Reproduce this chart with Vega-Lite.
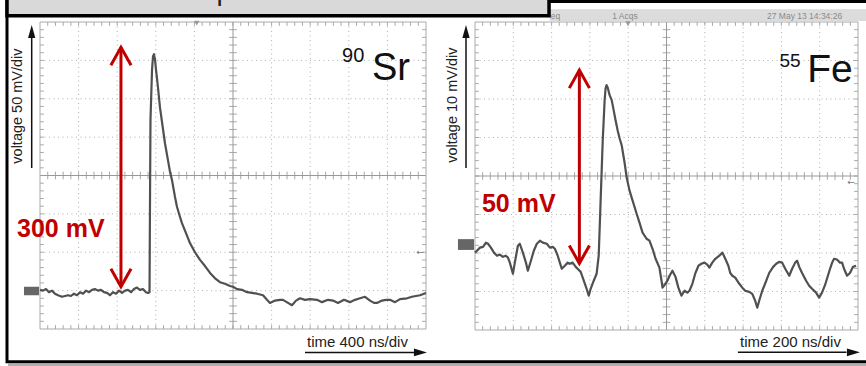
{
 "$schema": "https://vega.github.io/schema/vega-lite/v6.json",
 "width": 866, "height": 366,
 "autosize": {"type": "none"},
 "padding": 0,
 "background": "white",
 "config": {"view": {"stroke": null}},
 "data": {"values": [{}]},
 "datasets": {
  "lxt": [80,160,240,320,400,480,560,640,720,800,880,960,1040,1120,1200,1280,1360,1440,1520,1600,1680,1760,1840,1920,2000,2080,2160,2240,2320,2400,2480,2560,2640,2720,2800,2880,2960,3040,3120,3200,3280,3360,3440,3520,3600,3680,3760,3840,3920],
  "lyt": [-190,-180,-170,-160,-150,-140,-130,-120,-110,-100,-90,-80,-70,-60,-50,-40,-30,-20,-10,0,10,20,30,40,50,60,70,80,90,100,110,120,130,140,150,160,170,180,190],
  "rxt": [40,80,120,160,200,240,280,320,360,400,440,480,520,560,600,640,680,720,760,800,840,880,920,960,1000,1040,1080,1120,1160,1200,1240,1280,1320,1360,1400,1440,1480,1520,1560,1600,1640,1680,1720,1760,1800,1840,1880,1920,1960],
  "ryt": [-38,-36,-34,-32,-30,-28,-26,-24,-22,-20,-18,-16,-14,-12,-10,-8,-6,-4,-2,0,2,4,6,8,10,12,14,16,18,20,22,24,26,28,30,32,34,36,38],
  "left": [{"t":0,"v":-149},{"t":31,"v":-150},{"t":62,"v":-148},{"t":93,"v":-152},{"t":124,"v":-150},{"t":155,"v":-154},{"t":187,"v":-156},{"t":228,"v":-158},{"t":259,"v":-157},{"t":290,"v":-156},{"t":321,"v":-157},{"t":352,"v":-154},{"t":383,"v":-156},{"t":415,"v":-152},{"t":446,"v":-154},{"t":477,"v":-150},{"t":508,"v":-152},{"t":539,"v":-149},{"t":570,"v":-148},{"t":601,"v":-150},{"t":632,"v":-149},{"t":663,"v":-152},{"t":694,"v":-153},{"t":725,"v":-156},{"t":756,"v":-152},{"t":788,"v":-154},{"t":819,"v":-150},{"t":850,"v":-153},{"t":881,"v":-150},{"t":912,"v":-149},{"t":943,"v":-152},{"t":974,"v":-148},{"t":1005,"v":-146},{"t":1036,"v":-149},{"t":1067,"v":-148},{"t":1098,"v":-152},{"t":1119,"v":-153},{"t":1135,"v":-152},{"t":1140,"v":-32},{"t":1145,"v":73},{"t":1161,"v":138},{"t":1171,"v":155},{"t":1181,"v":158},{"t":1192,"v":151},{"t":1202,"v":138},{"t":1212,"v":127},{"t":1223,"v":114},{"t":1244,"v":88},{"t":1264,"v":70},{"t":1295,"v":42},{"t":1326,"v":20},{"t":1347,"v":5},{"t":1368,"v":-6},{"t":1399,"v":-28},{"t":1420,"v":-41},{"t":1451,"v":-54},{"t":1471,"v":-62},{"t":1513,"v":-75},{"t":1554,"v":-88},{"t":1606,"v":-100},{"t":1658,"v":-110},{"t":1710,"v":-118},{"t":1762,"v":-127},{"t":1814,"v":-134},{"t":1865,"v":-139},{"t":1917,"v":-141},{"t":1969,"v":-144},{"t":2000,"v":-145},{"t":2042,"v":-148},{"t":2093,"v":-149},{"t":2145,"v":-152},{"t":2197,"v":-153},{"t":2249,"v":-154},{"t":2311,"v":-156},{"t":2352,"v":-162},{"t":2383,"v":-166},{"t":2435,"v":-163},{"t":2487,"v":-162},{"t":2518,"v":-162},{"t":2570,"v":-166},{"t":2611,"v":-169},{"t":2653,"v":-163},{"t":2694,"v":-160},{"t":2746,"v":-162},{"t":2798,"v":-161},{"t":2871,"v":-162},{"t":2922,"v":-165},{"t":2985,"v":-162},{"t":3036,"v":-163},{"t":3088,"v":-166},{"t":3150,"v":-162},{"t":3212,"v":-165},{"t":3264,"v":-162},{"t":3316,"v":-160},{"t":3368,"v":-158},{"t":3420,"v":-163},{"t":3461,"v":-166},{"t":3492,"v":-166},{"t":3544,"v":-163},{"t":3586,"v":-162},{"t":3627,"v":-162},{"t":3679,"v":-165},{"t":3731,"v":-161},{"t":3803,"v":-160},{"t":3855,"v":-158},{"t":3896,"v":-157},{"t":3938,"v":-156},{"t":4000,"v":-153}],
  "right": [{"t":0,"v":-19.9},{"t":10,"v":-19.4},{"t":26,"v":-18.6},{"t":42,"v":-18.4},{"t":57,"v":-17.3},{"t":68,"v":-17.6},{"t":83,"v":-18.6},{"t":99,"v":-19.9},{"t":115,"v":-20.7},{"t":130,"v":-20.4},{"t":146,"v":-21.0},{"t":161,"v":-20.7},{"t":172,"v":-21.2},{"t":182,"v":-22.5},{"t":198,"v":-25.4},{"t":208,"v":-22.5},{"t":224,"v":-18.1},{"t":234,"v":-17.6},{"t":250,"v":-19.9},{"t":266,"v":-22.5},{"t":276,"v":-24.6},{"t":292,"v":-22.0},{"t":307,"v":-19.4},{"t":323,"v":-17.6},{"t":339,"v":-16.8},{"t":354,"v":-17.3},{"t":375,"v":-17.6},{"t":391,"v":-18.6},{"t":406,"v":-18.4},{"t":417,"v":-18.9},{"t":432,"v":-20.7},{"t":443,"v":-22.5},{"t":453,"v":-24.1},{"t":469,"v":-23.3},{"t":484,"v":-22.5},{"t":495,"v":-22.8},{"t":510,"v":-22.5},{"t":526,"v":-23.6},{"t":536,"v":-24.1},{"t":552,"v":-24.9},{"t":568,"v":-27.2},{"t":583,"v":-29.3},{"t":594,"v":-31.1},{"t":604,"v":-29.3},{"t":620,"v":-27.2},{"t":635,"v":-25.4},{"t":646,"v":-20.7},{"t":656,"v":-6.4},{"t":667,"v":9.2},{"t":677,"v":19.7},{"t":682,"v":22.8},{"t":687,"v":23.6},{"t":693,"v":23.0},{"t":703,"v":21.0},{"t":714,"v":19.7},{"t":724,"v":17.1},{"t":734,"v":14.5},{"t":745,"v":11.8},{"t":755,"v":9.8},{"t":766,"v":8.0},{"t":781,"v":3.5},{"t":792,"v":-0.4},{"t":807,"v":-3.8},{"t":823,"v":-6.4},{"t":844,"v":-9.8},{"t":859,"v":-12.1},{"t":875,"v":-14.7},{"t":896,"v":-16.3},{"t":911,"v":-16.8},{"t":927,"v":-18.9},{"t":943,"v":-21.5},{"t":963,"v":-23.8},{"t":974,"v":-27.2},{"t":979,"v":-29.0},{"t":990,"v":-28.3},{"t":1005,"v":-27.2},{"t":1016,"v":-25.9},{"t":1031,"v":-24.6},{"t":1047,"v":-26.2},{"t":1062,"v":-29.0},{"t":1078,"v":-31.1},{"t":1094,"v":-29.8},{"t":1109,"v":-30.3},{"t":1120,"v":-29.8},{"t":1135,"v":-28.0},{"t":1151,"v":-25.2},{"t":1167,"v":-23.3},{"t":1182,"v":-22.8},{"t":1198,"v":-22.5},{"t":1213,"v":-23.0},{"t":1224,"v":-23.8},{"t":1239,"v":-22.5},{"t":1255,"v":-21.5},{"t":1276,"v":-20.7},{"t":1292,"v":-19.9},{"t":1307,"v":-21.5},{"t":1323,"v":-23.3},{"t":1333,"v":-25.2},{"t":1344,"v":-25.9},{"t":1359,"v":-26.4},{"t":1380,"v":-28.0},{"t":1396,"v":-29.0},{"t":1411,"v":-29.8},{"t":1432,"v":-30.1},{"t":1448,"v":-30.6},{"t":1463,"v":-32.4},{"t":1474,"v":-34.2},{"t":1484,"v":-32.4},{"t":1500,"v":-29.8},{"t":1521,"v":-27.2},{"t":1536,"v":-25.2},{"t":1557,"v":-23.6},{"t":1573,"v":-22.8},{"t":1588,"v":-22.3},{"t":1604,"v":-22.5},{"t":1620,"v":-24.1},{"t":1641,"v":-25.9},{"t":1656,"v":-24.1},{"t":1672,"v":-22.5},{"t":1682,"v":-22.0},{"t":1693,"v":-23.6},{"t":1708,"v":-25.2},{"t":1729,"v":-27.2},{"t":1745,"v":-28.5},{"t":1760,"v":-29.3},{"t":1781,"v":-30.3},{"t":1797,"v":-31.6},{"t":1812,"v":-30.3},{"t":1828,"v":-28.3},{"t":1838,"v":-26.7},{"t":1854,"v":-24.1},{"t":1865,"v":-22.5},{"t":1875,"v":-21.5},{"t":1890,"v":-21.7},{"t":1906,"v":-22.5},{"t":1917,"v":-22.5},{"t":1927,"v":-24.1},{"t":1943,"v":-25.9},{"t":1958,"v":-25.2},{"t":1974,"v":-23.6},{"t":1990,"v":-23.3}]
 },
 "resolve": {"scale": {"x": "independent", "y": "independent"}},
 "layer": [
  {
   "layer": [
    {"data": {"name": "rxt"}, "mark": {"type": "rule", "stroke": "#a8a8a8", "strokeWidth": 1},
     "encoding": {"x": {"field": "data", "type": "quantitative", "scale": {"domain": [0,2000], "range": [475,858], "nice": false, "zero": false}, "axis": null},
      "y": {"datum": -40, "scale": {"domain": [-40,40], "range": [330,22], "nice": false, "zero": false}, "axis": null}, "y2": {"datum": -39}}},
    {"data": {"name": "rxt"}, "mark": {"type": "rule", "stroke": "#a8a8a8", "strokeWidth": 1},
     "encoding": {"x": {"field": "data", "type": "quantitative", "scale": {"domain": [0,2000], "range": [475,858], "nice": false, "zero": false}, "axis": null},
      "y": {"datum": 40, "scale": {"domain": [-40,40], "range": [330,22], "nice": false, "zero": false}, "axis": null}, "y2": {"datum": 39}}},
    {"data": {"name": "rxt"}, "mark": {"type": "rule", "stroke": "#a8a8a8", "strokeWidth": 1},
     "encoding": {"x": {"field": "data", "type": "quantitative", "scale": {"domain": [0,2000], "range": [475,858], "nice": false, "zero": false}, "axis": null},
      "y": {"datum": -1, "scale": {"domain": [-40,40], "range": [330,22], "nice": false, "zero": false}, "axis": null}, "y2": {"datum": 1}}},
    {"data": {"name": "ryt"}, "mark": {"type": "rule", "stroke": "#a8a8a8", "strokeWidth": 1},
     "encoding": {"y": {"field": "data", "type": "quantitative", "scale": {"domain": [-40,40], "range": [330,22], "nice": false, "zero": false}, "axis": null},
      "x": {"datum": 0, "scale": {"domain": [0,2000], "range": [475,858], "nice": false, "zero": false}, "axis": null}, "x2": {"datum": 20}}},
    {"data": {"name": "ryt"}, "mark": {"type": "rule", "stroke": "#a8a8a8", "strokeWidth": 1},
     "encoding": {"y": {"field": "data", "type": "quantitative", "scale": {"domain": [-40,40], "range": [330,22], "nice": false, "zero": false}, "axis": null},
      "x": {"datum": 2000, "scale": {"domain": [0,2000], "range": [475,858], "nice": false, "zero": false}, "axis": null}, "x2": {"datum": 1980}}},
    {"data": {"name": "ryt"}, "mark": {"type": "rule", "stroke": "#a8a8a8", "strokeWidth": 1},
     "encoding": {"y": {"field": "data", "type": "quantitative", "scale": {"domain": [-40,40], "range": [330,22], "nice": false, "zero": false}, "axis": null},
      "x": {"datum": 980, "scale": {"domain": [0,2000], "range": [475,858], "nice": false, "zero": false}, "axis": null}, "x2": {"datum": 1020}}},
    {"data": {"values": [200,400,600,800,1200,1400,1600,1800]}, "mark": {"type": "rule", "stroke": "#b0b0b0", "strokeWidth": 1, "strokeDash": [1,3.5]},
     "encoding": {"x": {"field": "data", "type": "quantitative", "scale": {"domain": [0,2000], "range": [475,858], "nice": false, "zero": false}, "axis": null},
      "y": {"datum": -40, "scale": {"domain": [-40,40], "range": [330,22], "nice": false, "zero": false}, "axis": null}, "y2": {"datum": 40}}},
    {"data": {"values": [-30,-20,-10,10,20,30]}, "mark": {"type": "rule", "stroke": "#b0b0b0", "strokeWidth": 1, "strokeDash": [1,3.5]},
     "encoding": {"y": {"field": "data", "type": "quantitative", "scale": {"domain": [-40,40], "range": [330,22], "nice": false, "zero": false}, "axis": null},
      "x": {"datum": 0, "scale": {"domain": [0,2000], "range": [475,858], "nice": false, "zero": false}, "axis": null}, "x2": {"datum": 2000}}},
    {"mark": {"type": "rule", "stroke": "#999999", "strokeWidth": 1},
     "encoding": {"x": {"datum": 1000, "scale": {"domain": [0,2000], "range": [475,858], "nice": false, "zero": false}, "axis": null},
      "y": {"datum": -40, "scale": {"domain": [-40,40], "range": [330,22], "nice": false, "zero": false}, "axis": null}, "y2": {"datum": 40}}},
    {"mark": {"type": "rule", "stroke": "#999999", "strokeWidth": 1},
     "encoding": {"y": {"datum": 0, "scale": {"domain": [-40,40], "range": [330,22], "nice": false, "zero": false}, "axis": null},
      "x": {"datum": 0, "scale": {"domain": [0,2000], "range": [475,858], "nice": false, "zero": false}, "axis": null}, "x2": {"datum": 2000}}},
    {"mark": {"type": "rect", "fillOpacity": 0, "stroke": "#aaaaaa", "strokeWidth": 1},
     "encoding": {"x": {"datum": 0, "scale": {"domain": [0,2000], "range": [475,858], "nice": false, "zero": false}, "axis": null}, "x2": {"datum": 2000},
      "y": {"datum": -40, "scale": {"domain": [-40,40], "range": [330,22], "nice": false, "zero": false}, "axis": null}, "y2": {"datum": 40}}},
    {"mark": {"type": "rect", "fill": "#dcdcdc", "stroke": "#c8c8c8", "strokeWidth": 0.5},
     "encoding": {"x": {"datum": 392, "scale": {"domain": [0,2000], "range": [475,858], "nice": false, "zero": false}, "axis": null}, "x2": {"datum": 2050},
      "y": {"datum": 43.2, "scale": {"domain": [-40,40], "range": [330,22], "nice": false, "zero": false}, "axis": null}, "y2": {"datum": 40.4}}},
    {"data": {"values": [{"t": 420, "s": "eq"}, {"t": 783, "s": "1 Acqs"}, {"t": 1721, "s": "27 May 13 14:34:26"}]},
     "mark": {"type": "text", "font": "Liberation Sans", "fontSize": 8.5, "fill": "#8a8a8a", "align": "center", "baseline": "alphabetic"},
     "encoding": {"x": {"field": "t", "type": "quantitative", "scale": {"domain": [0,2000], "range": [475,858], "nice": false, "zero": false}, "axis": null},
      "y": {"datum": 40.9, "scale": {"domain": [-40,40], "range": [330,22], "nice": false, "zero": false}, "axis": null}, "text": {"field": "s"}}},
    {"mark": {"type": "point", "shape": "triangle-down", "size": 30, "filled": true, "fill": "#999999", "opacity": 1},
     "encoding": {"x": {"datum": 799, "scale": {"domain": [0,2000], "range": [475,858], "nice": false, "zero": false}, "axis": null},
      "y": {"datum": 39.6, "scale": {"domain": [-40,40], "range": [330,22], "nice": false, "zero": false}, "axis": null}}},
    {"data": {"name": "right"}, "mark": {"type": "line", "stroke": "#505050", "strokeWidth": 2.2, "strokeJoin": "round"},
     "encoding": {"x": {"field": "t", "type": "quantitative", "scale": {"domain": [0,2000], "range": [475,858], "nice": false, "zero": false}, "axis": null},
      "y": {"field": "v", "type": "quantitative", "scale": {"domain": [-40,40], "range": [330,22], "nice": false, "zero": false}, "axis": null}}},
    {"mark": {"type": "rect", "fill": "#666666"},
     "encoding": {"x": {"datum": -89, "scale": {"domain": [0,2000], "range": [475,858], "nice": false, "zero": false}, "axis": null}, "x2": {"datum": -5},
      "y": {"datum": -16.4, "scale": {"domain": [-40,40], "range": [330,22], "nice": false, "zero": false}, "axis": null}, "y2": {"datum": -19.2}}},
    {"mark": {"type": "text", "text": "←", "font": "DejaVu Sans", "fontSize": 9, "fill": "#777777", "align": "center", "baseline": "middle"},
     "encoding": {"x": {"datum": 1963, "scale": {"domain": [0,2000], "range": [475,858], "nice": false, "zero": false}, "axis": null},
      "y": {"datum": -1.6, "scale": {"domain": [-40,40], "range": [330,22], "nice": false, "zero": false}, "axis": null}}},
    {"mark": {"type": "rule", "stroke": "#c00000", "strokeWidth": 3},
     "encoding": {"x": {"datum": 545, "scale": {"domain": [0,2000], "range": [475,858], "nice": false, "zero": false}, "axis": null},
      "y": {"datum": -22.7, "scale": {"domain": [-40,40], "range": [330,22], "nice": false, "zero": false}, "axis": null}, "y2": {"datum": 27.5}}},
    {"mark": {"type": "point", "shape": "M-0.56,1L0,0L0.56,1", "size": 1296, "filled": false, "stroke": "#c00000", "strokeWidth": 3, "opacity": 1},
     "encoding": {"x": {"datum": 545, "scale": {"domain": [0,2000], "range": [475,858], "nice": false, "zero": false}, "axis": null},
      "y": {"datum": 27.5, "scale": {"domain": [-40,40], "range": [330,22], "nice": false, "zero": false}, "axis": null}}},
    {"mark": {"type": "point", "shape": "M-0.56,-1L0,0L0.56,-1", "size": 1296, "filled": false, "stroke": "#c00000", "strokeWidth": 3, "opacity": 1},
     "encoding": {"x": {"datum": 545, "scale": {"domain": [0,2000], "range": [475,858], "nice": false, "zero": false}, "axis": null},
      "y": {"datum": -22.7, "scale": {"domain": [-40,40], "range": [330,22], "nice": false, "zero": false}, "axis": null}}},
    {"mark": {"type": "text", "text": "50 mV", "font": "Liberation Sans", "fontSize": 25, "fontWeight": "bold", "fill": "#c00000", "align": "left", "baseline": "alphabetic"},
     "encoding": {"x": {"datum": 36, "scale": {"domain": [0,2000], "range": [475,858], "nice": false, "zero": false}, "axis": null},
      "y": {"datum": -9.4, "scale": {"domain": [-40,40], "range": [330,22], "nice": false, "zero": false}, "axis": null}}},
    {"mark": {"type": "text", "text": "55", "font": "Liberation Sans", "fontSize": 19, "fill": "#111111", "align": "left", "baseline": "alphabetic"},
     "encoding": {"x": {"datum": 1590, "scale": {"domain": [0,2000], "range": [475,858], "nice": false, "zero": false}, "axis": null},
      "y": {"datum": 28.4, "scale": {"domain": [-40,40], "range": [330,22], "nice": false, "zero": false}, "axis": null}}},
    {"mark": {"type": "text", "text": "Fe", "font": "Liberation Sans", "fontSize": 39, "fill": "#111111", "align": "left", "baseline": "alphabetic"},
     "encoding": {"x": {"datum": 1735, "scale": {"domain": [0,2000], "range": [475,858], "nice": false, "zero": false}, "axis": null},
      "y": {"datum": 24.5, "scale": {"domain": [-40,40], "range": [330,22], "nice": false, "zero": false}, "axis": null}}},
    {"mark": {"type": "text", "text": "voltage  10 mV/div", "font": "Liberation Sans", "fontSize": 14.5, "fill": "#222222", "align": "center", "baseline": "middle", "angle": 270},
     "encoding": {"x": {"datum": -115, "scale": {"domain": [0,2000], "range": [475,858], "nice": false, "zero": false}, "axis": null},
      "y": {"datum": 18.4, "scale": {"domain": [-40,40], "range": [330,22], "nice": false, "zero": false}, "axis": null}}},
    {"mark": {"type": "rule", "stroke": "#111111", "strokeWidth": 1.5},
     "encoding": {"x": {"datum": -47, "scale": {"domain": [0,2000], "range": [475,858], "nice": false, "zero": false}, "axis": null},
      "y": {"datum": 2.1, "scale": {"domain": [-40,40], "range": [330,22], "nice": false, "zero": false}, "axis": null}, "y2": {"datum": 36}}},
    {"mark": {"type": "point", "shape": "M0,0L0.28,1L-0.28,1Z", "size": 676, "filled": true, "fill": "#111111", "opacity": 1},
     "encoding": {"x": {"datum": -47, "scale": {"domain": [0,2000], "range": [475,858], "nice": false, "zero": false}, "axis": null},
      "y": {"datum": 39.2, "scale": {"domain": [-40,40], "range": [330,22], "nice": false, "zero": false}, "axis": null}}},
    {"mark": {"type": "text", "text": "time 200 ns/div", "font": "Liberation Sans", "fontSize": 15, "fill": "#222222", "align": "left", "baseline": "alphabetic"},
     "encoding": {"x": {"datum": 1384, "scale": {"domain": [0,2000], "range": [475,858], "nice": false, "zero": false}, "axis": null},
      "y": {"datum": -44.4, "scale": {"domain": [-40,40], "range": [330,22], "nice": false, "zero": false}, "axis": null}}},
    {"mark": {"type": "rule", "stroke": "#111111", "strokeWidth": 1.5},
     "encoding": {"y": {"datum": -45.8, "scale": {"domain": [-40,40], "range": [330,22], "nice": false, "zero": false}, "axis": null},
      "x": {"datum": 1373, "scale": {"domain": [0,2000], "range": [475,858], "nice": false, "zero": false}, "axis": null}, "x2": {"datum": 1940}}},
    {"mark": {"type": "point", "shape": "M0,0L-1,-0.3L-1,0.3Z", "size": 676, "filled": true, "fill": "#111111", "opacity": 1},
     "encoding": {"x": {"datum": 2010, "scale": {"domain": [0,2000], "range": [475,858], "nice": false, "zero": false}, "axis": null},
      "y": {"datum": -45.8, "scale": {"domain": [-40,40], "range": [330,22], "nice": false, "zero": false}, "axis": null}}}
   ]
  },
  {
   "layer": [
    {"data": {"name": "lxt"}, "mark": {"type": "rule", "stroke": "#a8a8a8", "strokeWidth": 1},
     "encoding": {"x": {"field": "data", "type": "quantitative", "scale": {"domain": [0,4000], "range": [40,426], "nice": false, "zero": false}, "axis": null},
      "y": {"datum": -200, "scale": {"domain": [-200,200], "range": [329,22], "nice": false, "zero": false}, "axis": null}, "y2": {"datum": -195}}},
    {"data": {"name": "lxt"}, "mark": {"type": "rule", "stroke": "#a8a8a8", "strokeWidth": 1},
     "encoding": {"x": {"field": "data", "type": "quantitative", "scale": {"domain": [0,4000], "range": [40,426], "nice": false, "zero": false}, "axis": null},
      "y": {"datum": 200, "scale": {"domain": [-200,200], "range": [329,22], "nice": false, "zero": false}, "axis": null}, "y2": {"datum": 195}}},
    {"data": {"name": "lxt"}, "mark": {"type": "rule", "stroke": "#a8a8a8", "strokeWidth": 1},
     "encoding": {"x": {"field": "data", "type": "quantitative", "scale": {"domain": [0,4000], "range": [40,426], "nice": false, "zero": false}, "axis": null},
      "y": {"datum": -5, "scale": {"domain": [-200,200], "range": [329,22], "nice": false, "zero": false}, "axis": null}, "y2": {"datum": 5}}},
    {"data": {"name": "lyt"}, "mark": {"type": "rule", "stroke": "#a8a8a8", "strokeWidth": 1},
     "encoding": {"y": {"field": "data", "type": "quantitative", "scale": {"domain": [-200,200], "range": [329,22], "nice": false, "zero": false}, "axis": null},
      "x": {"datum": 0, "scale": {"domain": [0,4000], "range": [40,426], "nice": false, "zero": false}, "axis": null}, "x2": {"datum": 40}}},
    {"data": {"name": "lyt"}, "mark": {"type": "rule", "stroke": "#a8a8a8", "strokeWidth": 1},
     "encoding": {"y": {"field": "data", "type": "quantitative", "scale": {"domain": [-200,200], "range": [329,22], "nice": false, "zero": false}, "axis": null},
      "x": {"datum": 4000, "scale": {"domain": [0,4000], "range": [40,426], "nice": false, "zero": false}, "axis": null}, "x2": {"datum": 3960}}},
    {"data": {"name": "lyt"}, "mark": {"type": "rule", "stroke": "#a8a8a8", "strokeWidth": 1},
     "encoding": {"y": {"field": "data", "type": "quantitative", "scale": {"domain": [-200,200], "range": [329,22], "nice": false, "zero": false}, "axis": null},
      "x": {"datum": 1960, "scale": {"domain": [0,4000], "range": [40,426], "nice": false, "zero": false}, "axis": null}, "x2": {"datum": 2040}}},
    {"data": {"values": [400,800,1200,1600,2400,2800,3200,3600]}, "mark": {"type": "rule", "stroke": "#b0b0b0", "strokeWidth": 1, "strokeDash": [1,3.5]},
     "encoding": {"x": {"field": "data", "type": "quantitative", "scale": {"domain": [0,4000], "range": [40,426], "nice": false, "zero": false}, "axis": null},
      "y": {"datum": -200, "scale": {"domain": [-200,200], "range": [329,22], "nice": false, "zero": false}, "axis": null}, "y2": {"datum": 200}}},
    {"data": {"values": [-150,-100,-50,50,100,150]}, "mark": {"type": "rule", "stroke": "#b0b0b0", "strokeWidth": 1, "strokeDash": [1,3.5]},
     "encoding": {"y": {"field": "data", "type": "quantitative", "scale": {"domain": [-200,200], "range": [329,22], "nice": false, "zero": false}, "axis": null},
      "x": {"datum": 0, "scale": {"domain": [0,4000], "range": [40,426], "nice": false, "zero": false}, "axis": null}, "x2": {"datum": 4000}}},
    {"mark": {"type": "rule", "stroke": "#999999", "strokeWidth": 1},
     "encoding": {"x": {"datum": 2000, "scale": {"domain": [0,4000], "range": [40,426], "nice": false, "zero": false}, "axis": null},
      "y": {"datum": -200, "scale": {"domain": [-200,200], "range": [329,22], "nice": false, "zero": false}, "axis": null}, "y2": {"datum": 200}}},
    {"mark": {"type": "rule", "stroke": "#999999", "strokeWidth": 1},
     "encoding": {"y": {"datum": 0, "scale": {"domain": [-200,200], "range": [329,22], "nice": false, "zero": false}, "axis": null},
      "x": {"datum": 0, "scale": {"domain": [0,4000], "range": [40,426], "nice": false, "zero": false}, "axis": null}, "x2": {"datum": 4000}}},
    {"mark": {"type": "rect", "fillOpacity": 0, "stroke": "#aaaaaa", "strokeWidth": 1},
     "encoding": {"x": {"datum": 0, "scale": {"domain": [0,4000], "range": [40,426], "nice": false, "zero": false}, "axis": null}, "x2": {"datum": 4000},
      "y": {"datum": -200, "scale": {"domain": [-200,200], "range": [329,22], "nice": false, "zero": false}, "axis": null}, "y2": {"datum": 200}}},
    {"mark": {"type": "point", "shape": "triangle-down", "size": 30, "filled": true, "fill": "#999999", "opacity": 1},
     "encoding": {"x": {"datum": 1624, "scale": {"domain": [0,4000], "range": [40,426], "nice": false, "zero": false}, "axis": null},
      "y": {"datum": 198.6, "scale": {"domain": [-200,200], "range": [329,22], "nice": false, "zero": false}, "axis": null}}},
    {"data": {"name": "left"}, "mark": {"type": "line", "stroke": "#505050", "strokeWidth": 2.2, "strokeJoin": "round"},
     "encoding": {"x": {"field": "t", "type": "quantitative", "scale": {"domain": [0,4000], "range": [40,426], "nice": false, "zero": false}, "axis": null},
      "y": {"field": "v", "type": "quantitative", "scale": {"domain": [-200,200], "range": [329,22], "nice": false, "zero": false}, "axis": null}}},
    {"mark": {"type": "rect", "fill": "#666666"},
     "encoding": {"x": {"datum": -166, "scale": {"domain": [0,4000], "range": [40,426], "nice": false, "zero": false}, "axis": null}, "x2": {"datum": -10},
      "y": {"datum": -145, "scale": {"domain": [-200,200], "range": [329,22], "nice": false, "zero": false}, "axis": null}, "y2": {"datum": -156}}},
    {"mark": {"type": "text", "text": "←", "font": "DejaVu Sans", "fontSize": 9, "fill": "#777777", "align": "center", "baseline": "middle"},
     "encoding": {"x": {"datum": 3938, "scale": {"domain": [0,4000], "range": [40,426], "nice": false, "zero": false}, "axis": null},
      "y": {"datum": -99.6, "scale": {"domain": [-200,200], "range": [329,22], "nice": false, "zero": false}, "axis": null}}},
    {"mark": {"type": "rule", "stroke": "#c00000", "strokeWidth": 3},
     "encoding": {"x": {"datum": 839, "scale": {"domain": [0,4000], "range": [40,426], "nice": false, "zero": false}, "axis": null},
      "y": {"datum": -145, "scale": {"domain": [-200,200], "range": [329,22], "nice": false, "zero": false}, "axis": null}, "y2": {"datum": 167}}},
    {"mark": {"type": "point", "shape": "M-0.56,1L0,0L0.56,1", "size": 1296, "filled": false, "stroke": "#c00000", "strokeWidth": 3, "opacity": 1},
     "encoding": {"x": {"datum": 839, "scale": {"domain": [0,4000], "range": [40,426], "nice": false, "zero": false}, "axis": null},
      "y": {"datum": 167, "scale": {"domain": [-200,200], "range": [329,22], "nice": false, "zero": false}, "axis": null}}},
    {"mark": {"type": "point", "shape": "M-0.56,-1L0,0L0.56,-1", "size": 1296, "filled": false, "stroke": "#c00000", "strokeWidth": 3, "opacity": 1},
     "encoding": {"x": {"datum": 839, "scale": {"domain": [0,4000], "range": [40,426], "nice": false, "zero": false}, "axis": null},
      "y": {"datum": -145, "scale": {"domain": [-200,200], "range": [329,22], "nice": false, "zero": false}, "axis": null}}},
    {"mark": {"type": "text", "text": "300 mV", "font": "Liberation Sans", "fontSize": 25, "fontWeight": "bold", "fill": "#c00000", "align": "left", "baseline": "alphabetic"},
     "encoding": {"x": {"datum": -238, "scale": {"domain": [0,4000], "range": [40,426], "nice": false, "zero": false}, "axis": null},
      "y": {"datum": -80, "scale": {"domain": [-200,200], "range": [329,22], "nice": false, "zero": false}, "axis": null}}},
    {"mark": {"type": "text", "text": "90", "font": "Liberation Sans", "fontSize": 20, "fill": "#111111", "align": "left", "baseline": "alphabetic"},
     "encoding": {"x": {"datum": 3130, "scale": {"domain": [0,4000], "range": [40,426], "nice": false, "zero": false}, "axis": null},
      "y": {"datum": 148, "scale": {"domain": [-200,200], "range": [329,22], "nice": false, "zero": false}, "axis": null}}},
    {"mark": {"type": "text", "text": "Sr", "font": "Liberation Sans", "fontSize": 38, "fill": "#111111", "align": "left", "baseline": "alphabetic"},
     "encoding": {"x": {"datum": 3440, "scale": {"domain": [0,4000], "range": [40,426], "nice": false, "zero": false}, "axis": null},
      "y": {"datum": 124, "scale": {"domain": [-200,200], "range": [329,22], "nice": false, "zero": false}, "axis": null}}},
    {"mark": {"type": "text", "text": "voltage  50 mV/div", "font": "Liberation Sans", "fontSize": 14.5, "fill": "#222222", "align": "center", "baseline": "middle", "angle": 270},
     "encoding": {"x": {"datum": -223, "scale": {"domain": [0,4000], "range": [40,426], "nice": false, "zero": false}, "axis": null},
      "y": {"datum": 90.5, "scale": {"domain": [-200,200], "range": [329,22], "nice": false, "zero": false}, "axis": null}}},
    {"mark": {"type": "rule", "stroke": "#111111", "strokeWidth": 1.5},
     "encoding": {"x": {"datum": -86, "scale": {"domain": [0,4000], "range": [40,426], "nice": false, "zero": false}, "axis": null},
      "y": {"datum": 9.8, "scale": {"domain": [-200,200], "range": [329,22], "nice": false, "zero": false}, "axis": null}, "y2": {"datum": 180}}},
    {"mark": {"type": "point", "shape": "M0,0L0.28,1L-0.28,1Z", "size": 676, "filled": true, "fill": "#111111", "opacity": 1},
     "encoding": {"x": {"datum": -86, "scale": {"domain": [0,4000], "range": [40,426], "nice": false, "zero": false}, "axis": null},
      "y": {"datum": 196, "scale": {"domain": [-200,200], "range": [329,22], "nice": false, "zero": false}, "axis": null}}},
    {"mark": {"type": "text", "text": "time 400 ns/div", "font": "Liberation Sans", "fontSize": 15, "fill": "#222222", "align": "left", "baseline": "alphabetic"},
     "encoding": {"x": {"datum": 2767, "scale": {"domain": [0,4000], "range": [40,426], "nice": false, "zero": false}, "axis": null},
      "y": {"datum": -223, "scale": {"domain": [-200,200], "range": [329,22], "nice": false, "zero": false}, "axis": null}}},
    {"mark": {"type": "rule", "stroke": "#111111", "strokeWidth": 1.5},
     "encoding": {"y": {"datum": -230.5, "scale": {"domain": [-200,200], "range": [329,22], "nice": false, "zero": false}, "axis": null},
      "x": {"datum": 2746, "scale": {"domain": [0,4000], "range": [40,426], "nice": false, "zero": false}, "axis": null}, "x2": {"datum": 3880}}},
    {"mark": {"type": "point", "shape": "M0,0L-1,-0.3L-1,0.3Z", "size": 676, "filled": true, "fill": "#111111", "opacity": 1},
     "encoding": {"x": {"datum": 4010, "scale": {"domain": [0,4000], "range": [40,426], "nice": false, "zero": false}, "axis": null},
      "y": {"datum": -230.5, "scale": {"domain": [-200,200], "range": [329,22], "nice": false, "zero": false}, "axis": null}}},
    {"mark": {"type": "rule", "stroke": "#b0b0b0", "strokeWidth": 2.5},
     "encoding": {"y": {"datum": -246.7, "scale": {"domain": [-200,200], "range": [329,22], "nice": false, "zero": false}, "axis": null},
      "x": {"datum": -332, "scale": {"domain": [0,4000], "range": [40,426], "nice": false, "zero": false}, "axis": null}, "x2": {"datum": 8600}}},
    {"mark": {"type": "rect", "fillOpacity": 0, "stroke": "#000000", "strokeWidth": 3},
     "encoding": {"x": {"datum": -342, "scale": {"domain": [0,4000], "range": [40,426], "nice": false, "zero": false}, "axis": null}, "x2": {"datum": 8600},
      "y": {"datum": 226.6, "scale": {"domain": [-200,200], "range": [329,22], "nice": false, "zero": false}, "axis": null}, "y2": {"datum": -242.8}}},
    {"mark": {"type": "rect", "fill": "#d9d9d9", "stroke": "#000000", "strokeWidth": 3.5},
     "encoding": {"x": {"datum": -342, "scale": {"domain": [0,4000], "range": [40,426], "nice": false, "zero": false}, "axis": null}, "x2": {"datum": 5275},
      "y": {"datum": 240, "scale": {"domain": [-200,200], "range": [329,22], "nice": false, "zero": false}, "axis": null}, "y2": {"datum": 208.3}}},
    {"mark": {"type": "text", "text": "Detector output for radioactive sources", "font": "Liberation Sans", "fontSize": 28, "fill": "#222222", "align": "left", "baseline": "alphabetic"},
     "encoding": {"x": {"datum": 249, "scale": {"domain": [0,4000], "range": [40,426], "nice": false, "zero": false}, "axis": null},
      "y": {"datum": 228.2, "scale": {"domain": [-200,200], "range": [329,22], "nice": false, "zero": false}, "axis": null}}}
   ]
  }
 ]
}
